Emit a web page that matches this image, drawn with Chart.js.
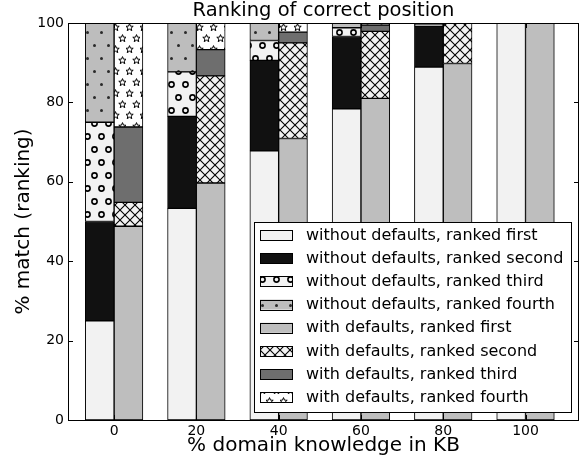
<!DOCTYPE html>
<html>
<head>
<meta charset="utf-8">
<title>Ranking of correct position</title>
<script src="https://cdn.jsdelivr.net/npm/chart.js@4.4.1/dist/chart.umd.min.js"></script>
<style>
  body { margin: 0; background: #fff; }
  canvas { display: block; }
</style>
</head>
<body>
<canvas id="rankChart" width="586" height="463"></canvas>
<script>
// data (% of matches per rank)
const knowledgeLevels = [0, 20, 40, 60, 80, 100];
const xTickValues = [0, 20, 40, 60, 80, 100];
const yTickValues = [0, 20, 40, 60, 80, 100];

const noDefFirst  = [25.0, 53.3, 67.8, 78.4, 88.9, 100];
const noDefSecond = [25.0, 23.2, 22.8, 18.2, 10.3, 0];
const noDefThird  = [25.0, 11.2, 5.0, 2.2, 0.5, 0];
const noDefFourth = [25.0, 12.3, 4.4, 1.2, 0.3, 0];

const defFirst  = [48.8, 59.7, 70.9, 81.0, 89.8, 100];
const defSecond = [6.0, 27.0, 24.1, 16.9, 10.2, 0];
const defThird  = [19.0, 6.6, 2.7, 1.6, 0, 0];
const defFourth = [26.2, 6.7, 2.3, 0.5, 0, 0];

const seriesLabels = [
  "without defaults, ranked first",
  "without defaults, ranked second",
  "without defaults, ranked third",
  "without defaults, ranked fourth",
  "with defaults, ranked first",
  "with defaults, ranked second",
  "with defaults, ranked third",
  "with defaults, ranked fourth"
];

const BAR_WIDTH = 7; // in x units, like matplotlib's width=7
const FONT = "'DejaVu Sans', 'Liberation Sans', sans-serif";

// ----------------------------------------------
// Hatch patterns
// ----------------------------------------------
function makePattern(bg, w, h, drawFn) {
  const c = document.createElement("canvas");
  c.width = w;
  c.height = h;
  const g = c.getContext("2d");
  g.fillStyle = bg;
  g.fillRect(0, 0, w, h);
  g.strokeStyle = "#000";
  g.fillStyle = "#000";
  drawFn(g);
  return g.createPattern(c, "repeat");
}

function starPath(g, cx, cy, rOut, rIn) {
  g.beginPath();
  for (let i = 0; i < 10; i++) {
    const r = i % 2 === 0 ? rOut : rIn;
    const a = -Math.PI / 2 + i * Math.PI / 5;
    const px = cx + r * Math.cos(a);
    const py = cy + r * Math.sin(a);
    if (i === 0) g.moveTo(px, py); else g.lineTo(px, py);
  }
  g.closePath();
}

const circlePattern = makePattern("#f2f2f2", 14, 26, g => {
  g.lineWidth = 1.6;
  [[3.5, 6.5], [10.5, 19.5]].forEach(([x, y]) => {
    g.beginPath();
    g.arc(x, y, 2.6, 0, Math.PI * 2);
    g.stroke();
  });
});

const dotPattern = makePattern("#bdbdbd", 14, 26, g => {
  g.fillStyle = "#2a2a2a";
  [[3.5, 6.5], [10.5, 19.5]].forEach(([x, y]) => {
    g.beginPath();
    g.arc(x, y, 1.5, 0, Math.PI * 2);
    g.fill();
  });
});

const crossPattern = makePattern("#f2f2f2", 10, 10, g => {
  g.lineWidth = 1.1;
  g.beginPath();
  g.moveTo(-1, -1); g.lineTo(11, 11);
  g.moveTo(11, -1); g.lineTo(-1, 11);
  g.stroke();
});

const starPattern = makePattern("#ffffff", 14, 22, g => {
  g.lineWidth = 1;
  [[3.5, 5.5], [10.5, 16.5]].forEach(([x, y]) => {
    starPath(g, x, y, 3.9, 1.7);
    g.stroke();
  });
});

const fills = [
  "#f2f2f2", "#111111", circlePattern, dotPattern,
  "#bebebe", crossPattern, "#6e6e6e", starPattern
];

// ----------------------------------------------
// Datasets
// ----------------------------------------------
function buildDataset(idx, values, shift, stack) {
  return {
    label: seriesLabels[idx],
    data: knowledgeLevels.map((k, i) => ({ x: k + shift, y: values[i] })),
    stack: stack,
    grouped: false,
    backgroundColor: fills[idx],
    borderColor: "#000",
    borderWidth: 1,
    borderSkipped: false,
    categoryPercentage: 1,
    barPercentage: 1
  };
}

const half = BAR_WIDTH / 2;
const datasets = [
  buildDataset(0, noDefFirst, -half, "noDef"),
  buildDataset(1, noDefSecond, -half, "noDef"),
  buildDataset(2, noDefThird, -half, "noDef"),
  buildDataset(3, noDefFourth, -half, "noDef"),
  buildDataset(4, defFirst, half, "def"),
  buildDataset(5, defSecond, half, "def"),
  buildDataset(6, defThird, half, "def"),
  buildDataset(7, defFourth, half, "def")
];

// ----------------------------------------------
// Plugins: frame with inward ticks, title, legend
// ----------------------------------------------
const framePlugin = {
  id: "frame",
  afterDatasetsDraw(chart) {
    const { ctx, chartArea: a, scales } = chart;
    ctx.save();
    ctx.strokeStyle = "#000";
    ctx.lineWidth = 1;
    ctx.strokeRect(a.left + 0.5, a.top + 0.5, a.right - a.left - 1, a.bottom - a.top);
    ctx.beginPath();
    yTickValues.forEach(v => {
      const y = Math.round(scales.y.getPixelForValue(v)) + 0.5;
      ctx.moveTo(a.left, y); ctx.lineTo(a.left + 5, y);
      ctx.moveTo(a.right, y); ctx.lineTo(a.right - 5, y);
    });
    xTickValues.forEach(v => {
      const x = Math.round(scales.x.getPixelForValue(v)) + 0.5;
      ctx.moveTo(x, a.bottom); ctx.lineTo(x, a.bottom - 5);
      ctx.moveTo(x, a.top); ctx.lineTo(x, a.top + 5);
    });
    ctx.stroke();
    ctx.restore();
  }
};

const titlePlugin = {
  id: "topTitle",
  afterDraw(chart) {
    const { ctx, chartArea: a } = chart;
    ctx.save();
    ctx.fillStyle = "#000";
    ctx.font = "19.5px " + FONT;
    ctx.textAlign = "center";
    ctx.textBaseline = "middle";
    ctx.fillText("Ranking of correct position", (a.left + a.right) / 2, 11);
    ctx.restore();
  }
};

const legendPlugin = {
  id: "boxLegend",
  afterDraw(chart) {
    const { ctx, chartArea: a } = chart;
    const boxW = 317, boxH = 190;
    const left = a.right - 8 - boxW;
    const top = a.bottom - 8 - boxH;
    const rowH = 23.2;
    ctx.save();
    ctx.fillStyle = "#fff";
    ctx.fillRect(left, top, boxW, boxH);
    ctx.strokeStyle = "#000";
    ctx.lineWidth = 1;
    ctx.strokeRect(left + 0.5, top + 0.5, boxW, boxH);
    ctx.font = "16px " + FONT;
    ctx.textBaseline = "middle";
    chart.data.datasets.forEach((ds, i) => {
      const cy = top + 13 + i * rowH;
      ctx.fillStyle = ds.backgroundColor;
      ctx.fillRect(left + 6, cy - 5, 33, 10);
      ctx.strokeStyle = "#000";
      ctx.strokeRect(left + 6.5, Math.round(cy - 5) + 0.5, 32, 10);
      ctx.fillStyle = "#000";
      ctx.fillText(ds.label, left + 52, cy + 0.5);
    });
    ctx.restore();
  }
};

// ----------------------------------------------
// Chart
// ----------------------------------------------
const ctx = document.getElementById("rankChart").getContext("2d");
new Chart(ctx, {
  type: "bar",
  data: { datasets: datasets },
  options: {
    responsive: false,
    devicePixelRatio: 1,
    animation: false,
    layout: { padding: { top: 23, right: 7, left: 0, bottom: 0 } },
    plugins: {
      legend: { display: false },
      tooltip: { enabled: false },
      title: { display: false }
    },
    scales: {
      x: {
        type: "linear",
        offset: false,
        min: -11.2,
        max: 113,
        afterFit: scale => { scale.height = 43; },
        afterBuildTicks: scale => {
          scale.ticks = xTickValues.map(v => ({ value: v }));
        },
        grid: { display: false, drawTicks: false },
        border: { display: false },
        ticks: {
          color: "#000",
          font: { family: FONT, size: 14 },
          padding: 3,
          maxRotation: 0,
          callback: v => String(v)
        },
        title: {
          display: true,
          text: "% domain knowledge in KB",
          color: "#000",
          font: { family: FONT, size: 20 },
          padding: { top: 0, bottom: 5 }
        }
      },
      y: {
        stacked: true,
        min: 0,
        max: 100,
        afterFit: scale => { scale.width = 68; },
        afterBuildTicks: scale => {
          scale.ticks = yTickValues.map(v => ({ value: v }));
        },
        grid: { display: false, drawTicks: false },
        border: { display: false },
        ticks: {
          color: "#000",
          font: { family: FONT, size: 14 },
          padding: 4
        },
        title: {
          display: true,
          text: "% match (ranking)",
          color: "#000",
          font: { family: FONT, size: 20 },
          padding: { top: 12, bottom: 0 }
        }
      }
    }
  },
  plugins: [framePlugin, titlePlugin, legendPlugin]
});
</script>
</body>
</html>
